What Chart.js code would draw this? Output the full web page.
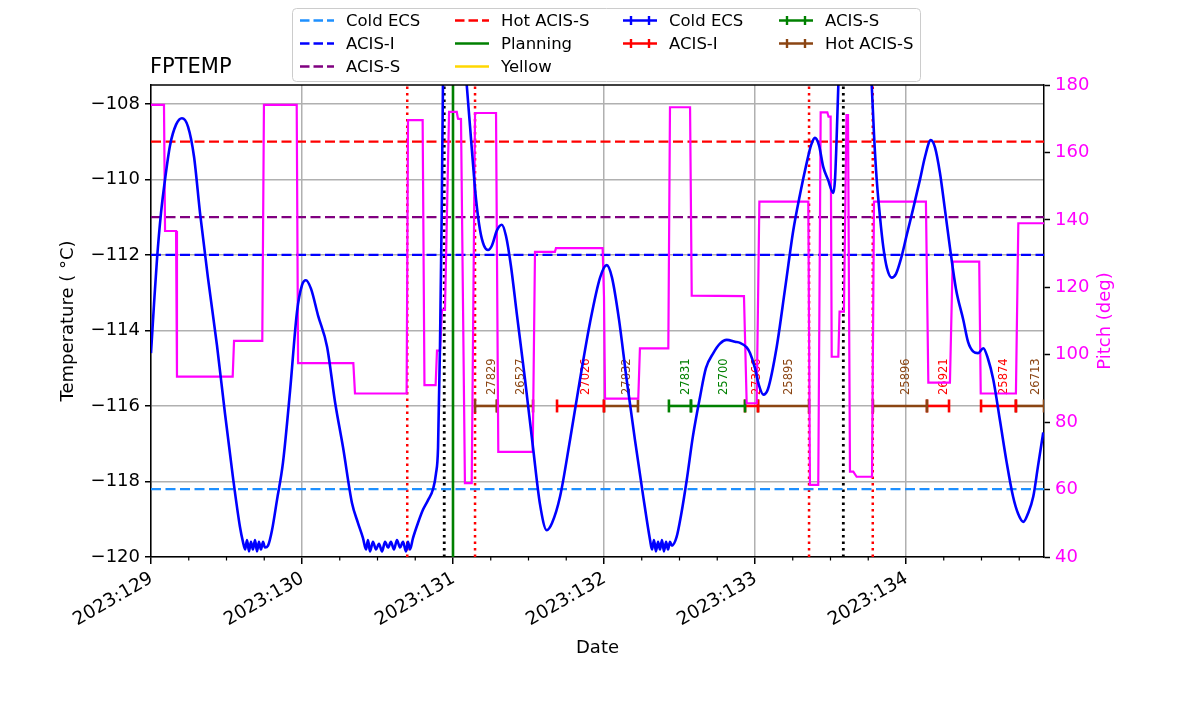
<!DOCTYPE html>
<html>
<head>
<meta charset="utf-8">
<script src="https://cdn.jsdelivr.net/npm/chart.js@4.4.1/dist/chart.umd.min.js"></script>
<style>
  html, body { margin: 0; padding: 0; background: #fff; }
  #wrap { width: 1200px; height: 714px; position: relative; }
</style>
</head>
<body>
<div id="wrap"><canvas id="chart"></canvas></div>
<script>
// --- axis ranges -----------------------------------------------------------
const xRange = [129, 134.914];          // day of year 2023
const tempRange = [-120, -107.5];
const pitchRange = [40, 180];
const dayTicks = [129, 130, 131, 132, 133, 134];

// --- FPTEMP (deg C) --------------------------------------------------------
const tempTimes = [
  129.000,129.020,129.040,129.066,129.093,129.126,129.166,129.205,129.245,129.285,
  129.325,129.377,129.437,129.490,129.543,129.589,129.609,
  129.623,129.636,129.649,129.662,129.675,129.689,129.702,129.715,129.728,129.742,129.755,
  129.775,129.801,129.834,129.874,129.921,129.967,130.000,130.026,130.060,130.106,130.166,130.219,130.272,130.331,130.371,130.404,
  130.424,130.437,130.450,130.470,130.490,130.510,130.530,130.550,130.570,130.589,130.609,130.629,130.649,130.669,130.689,130.702,130.715,130.735,
  130.768,130.801,130.834,130.868,130.887,130.901,130.914,130.925,130.934,130.940,130.954,131.013,131.066,
  131.091,131.113,131.132,131.152,131.179,131.205,131.232,131.258,131.291,131.323,131.351,131.384,131.422,131.477,131.530,131.576,131.621,131.656,131.709,131.775,131.841,131.907,131.974,132.018,132.053,132.099,132.150,132.205,132.260,132.305,
  132.318,132.331,132.344,132.358,132.371,132.384,132.397,132.411,132.424,132.437,132.450,
  132.481,132.510,132.548,132.589,132.636,132.675,132.724,132.768,132.813,132.868,132.901,132.945,132.967,133.000,133.026,133.055,133.086,133.144,133.199,133.254,133.298,133.342,133.371,133.397,133.424,133.452,133.483,133.519,133.530,133.540,133.552,133.596,133.709,
  133.773,133.788,133.806,133.828,133.850,133.874,133.905,133.934,133.967,134.005,134.046,134.093,134.126,134.164,134.192,134.225,134.258,134.291,134.331,134.380,134.411,134.446,134.477,134.512,134.543,134.578,134.623,134.667,134.709,134.742,134.777,134.808,134.843,134.874,134.909
];
const tempValues = [
  -114.6,-113.3,-112.1,-110.9,-110.0,-109.1,-108.55,-108.38,-108.6,-109.4,
  -110.9,-112.6,-114.4,-116.2,-117.9,-119.2,-119.6,
  -119.8,-119.55,-119.85,-119.6,-119.8,-119.55,-119.85,-119.6,-119.8,-119.6,-119.75,
  -119.7,-119.3,-118.5,-117.5,-115.6,-113.5,-112.8,-112.67,-112.9,-113.6,-114.43,-115.9,-117.1,-118.57,-119.1,-119.5,
  -119.8,-119.55,-119.85,-119.6,-119.8,-119.65,-119.85,-119.6,-119.75,-119.6,-119.8,-119.55,-119.75,-119.6,-119.85,-119.6,-119.8,-119.5,
  -119.1,-118.75,-118.5,-118.2,-117.8,-117.1,-114.4,-111.0,-107.3,-106.0,-105.0,-104.0,-106.0,
  -107.5,-108.6,-109.57,-110.5,-111.34,-111.75,-111.87,-111.75,-111.35,-111.2,-111.5,-112.3,-113.54,-115.3,-117.1,-118.6,-119.29,-119.1,-118.4,-116.9,-115.3,-113.8,-112.6,-112.27,-112.6,-113.7,-115.3,-116.9,-118.4,-119.55,
  -119.8,-119.55,-119.85,-119.6,-119.8,-119.55,-119.85,-119.6,-119.8,-119.6,-119.7,
  -119.47,-118.9,-117.96,-116.8,-115.76,-115.0,-114.6,-114.35,-114.25,-114.3,-114.33,-114.45,-114.6,-115.0,-115.45,-115.7,-115.55,-114.43,-112.9,-111.34,-110.4,-109.57,-109.1,-108.9,-109.1,-109.67,-110.0,-110.36,-110.0,-109.0,-107.5,-104.0,-104.0,
  -107.5,-108.8,-110.0,-111.0,-111.8,-112.35,-112.6,-112.5,-112.1,-111.47,-110.8,-110.0,-109.4,-108.96,-109.15,-109.83,-110.8,-111.8,-112.9,-113.73,-114.3,-114.56,-114.6,-114.47,-114.75,-115.3,-116.4,-117.5,-118.4,-118.85,-119.07,-118.85,-118.4,-117.6,-116.7
];

// --- pitch (deg) -----------------------------------------------------------
const pitchTimes = [
  129.000,129.086,129.093,129.166,129.172,129.541,129.550,129.737,129.748,129.965,
  129.974,130.340,130.351,130.693,130.702,130.799,130.811,130.885,130.894,130.914,
  130.927,130.947,130.974,131.025,131.033,131.053,131.079,131.124,131.146,131.285,
  131.300,131.528,131.543,131.675,131.682,131.991,132.000,132.007,132.227,132.238,
  132.426,132.437,132.570,132.581,132.927,132.945,133.011,133.029,133.353,133.364,
  133.419,133.435,133.479,133.487,133.501,133.508,133.552,133.560,133.589,133.606,
  133.616,133.629,133.651,133.673,133.775,133.788,134.132,134.148,134.291,134.309,
  134.485,134.495,134.728,134.744,134.914
];
const pitchValues = [
  174.1,174.1,136.7,136.7,93.5,93.5,104.1,104.1,174.1,174.1,
  97.5,97.5,88.5,88.5,169.6,169.6,91,91,101.2,101.2,
  113.3,113.3,172,172,170,169.9,61.9,61.9,171.7,171.7,
  71.2,71.2,130.5,130.5,131.6,131.6,117.2,87,87,101.9,
  101.9,173.4,173.4,117.5,117.4,85.6,85.6,145.4,145.4,61.4,
  61.4,171.9,171.9,170.6,170.6,99.4,99.4,112.8,112.8,171.1,
  171.1,65.3,65.3,63.8,63.8,145.4,145.4,91.7,91.7,127.6,
  127.6,88.5,88.5,139,139
];

// --- limit lines -----------------------------------------------------------
const limitNames  = ['Cold ECS', 'ACIS-I', 'ACIS-S', 'Hot ACIS-S'];
const limitValues = [-118.2, -112, -111, -109];
const limitColors = ['#1e90ff', '#0000ff', '#800080', '#ff0000'];

// --- vertical event lines --------------------------------------------------
const redEventTimes   = [130.697, 131.146, 133.358, 133.780];
const blackEventTimes = [130.942, 133.585];
const planningTimes   = [131.000];

// --- obsid intervals -------------------------------------------------------
const obsidLevel = -116;
const obsidIds   = ['27829','26527','27026','27832','27831','25700','27366','25895','25896','26921','25874','26713'];
const obsidStart = [131.146,131.291,131.689,132.000,132.430,132.576,132.934,133.020,133.781,134.139,134.497,134.728];
const obsidStop  = [131.291,131.530,132.000,132.225,132.576,132.934,133.020,133.358,134.139,134.285,134.728,134.914];
const obsidMode  = ['Hot ACIS-S','Hot ACIS-S','ACIS-I','Hot ACIS-S','ACIS-S','ACIS-S','ACIS-I','Hot ACIS-S','Hot ACIS-S','ACIS-I','ACIS-I','Hot ACIS-S'];
const modeColor  = { 'Cold ECS': '#0000ff', 'ACIS-I': '#ff0000', 'ACIS-S': '#008000', 'Hot ACIS-S': '#8b4513' };

// --- legend ----------------------------------------------------------------
const legendLabels = ['Cold ECS','ACIS-I','ACIS-S','Hot ACIS-S','Planning','Yellow','Cold ECS','ACIS-I','ACIS-S','Hot ACIS-S'];
const legendColors = ['#1e90ff','#0000ff','#800080','#ff0000','#008000','#ffd700','#0000ff','#ff0000','#008000','#8b4513'];
const legendKinds  = ['dash','dash','dash','dash','solid','solid','err','err','err','err'];

const FONT = '"DejaVu Sans", sans-serif';
Chart.defaults.font.family = FONT;

const pts = (xs, ys) => xs.map((x, i) => ({ x: x, y: ys[i] }));

const datasets = [];

datasets.push({
  label: 'FPTEMP', data: pts(tempTimes, tempValues), yAxisID: 'y',
  borderColor: '#0000ff', borderWidth: 2.6, pointRadius: 0, showLine: true, order: 0,
  cubicInterpolationMode: 'monotone'
});
datasets.push({
  label: 'Pitch', data: pts(pitchTimes, pitchValues), yAxisID: 'y2',
  borderColor: '#ff00ff', borderWidth: 2.2, pointRadius: 0, showLine: true, order: 1
});

obsidIds.forEach((id, i) => {
  const c = modeColor[obsidMode[i]];
  datasets.push({
    label: id, yAxisID: 'y', order: 2,
    data: [{ x: obsidStart[i], y: obsidLevel }, { x: obsidStop[i], y: obsidLevel }],
    borderColor: c, borderWidth: 2.6, showLine: true,
    pointStyle: 'line', pointRotation: 90, pointRadius: 6.5,
    pointBorderColor: c, pointBorderWidth: 2.6
  });
});

limitNames.forEach((n, i) => {
  datasets.push({
    label: n, yAxisID: 'y', order: 3,
    data: [{ x: xRange[0], y: limitValues[i] }, { x: xRange[1], y: limitValues[i] }],
    borderColor: limitColors[i], borderWidth: 2.2, borderDash: [10, 4.5],
    pointRadius: 0, showLine: true
  });
});

function vline(t, color, dash, width) {
  datasets.push({
    label: 'event', yAxisID: 'y', order: 4,
    data: [{ x: t, y: tempRange[0] }, { x: t, y: tempRange[1] }],
    borderColor: color, borderWidth: width, borderDash: dash,
    pointRadius: 0, showLine: true
  });
}
redEventTimes.forEach(t => vline(t, '#ff0000', [2.5, 4], 2.5));
blackEventTimes.forEach(t => vline(t, '#000000', [2.5, 4], 2.8));
planningTimes.forEach(t => vline(t, '#008000', [], 2.6));

// extra drawing: frame, minor ticks, rotated date labels, obsid labels, titles, legend
const decor = {
  id: 'decor',
  beforeDatasetsDraw(chart) {
    const ctx = chart.ctx, xs = chart.scales.x, ys = chart.scales.y, a = chart.chartArea;
    ctx.save();
    ctx.beginPath();
    ctx.rect(a.left, a.top, a.right - a.left, a.bottom - a.top);
    ctx.clip();
    ctx.font = '11.5px ' + FONT;
    obsidIds.forEach((id, i) => {
      const xm = xs.getPixelForValue((obsidStart[i] + obsidStop[i]) / 2);
      const yb = ys.getPixelForValue(obsidLevel) - 11;
      ctx.save();
      ctx.translate(xm, yb);
      ctx.rotate(-Math.PI / 2);
      ctx.textAlign = 'left';
      ctx.textBaseline = 'top';
      ctx.fillStyle = modeColor[obsidMode[i]];
      ctx.fillText(id, 0, 0);
      ctx.restore();
    });
    ctx.restore();
  },
  afterDraw(chart) {
    const ctx = chart.ctx, a = chart.chartArea, xs = chart.scales.x;
    ctx.save();
    // top spine
    ctx.strokeStyle = '#000';
    ctx.lineWidth = 1.5;
    ctx.beginPath();
    ctx.moveTo(a.left, a.top);
    ctx.lineTo(a.right, a.top);
    ctx.stroke();
    // minor x ticks every 6 h
    ctx.lineWidth = 1.2;
    for (let q = Math.ceil(xRange[0] * 4); q <= xRange[1] * 4; q++) {
      if (q % 4 === 0) continue;
      const px = xs.getPixelForValue(q / 4);
      ctx.beginPath();
      ctx.moveTo(px, a.bottom);
      ctx.lineTo(px, a.bottom + 3.5);
      ctx.stroke();
    }
    // date tick labels, rotated 30 deg, right/top aligned like autofmt_xdate
    ctx.fillStyle = '#000';
    ctx.font = '18.5px ' + FONT;
    ctx.textAlign = 'center';
    ctx.textBaseline = 'middle';
    const ang = Math.PI / 6, th = 18.5 * 1.16;
    dayTicks.forEach(d => {
      const txt = '2023:' + d;
      const w = ctx.measureText(txt).width;
      const bw = w * Math.cos(ang) + th * Math.sin(ang);
      const bh = w * Math.sin(ang) + th * Math.cos(ang);
      const px = xs.getPixelForValue(d) + 6;
      ctx.save();
      ctx.translate(px - bw / 2, a.bottom + 11 + bh / 2);
      ctx.rotate(-ang);
      ctx.fillText(txt, 0, 0);
      ctx.restore();
    });
    // title
    ctx.font = '21px ' + FONT;
    ctx.textAlign = 'left';
    ctx.textBaseline = 'alphabetic';
    ctx.fillText('FPTEMP', a.left - 1, a.top - 12);
    // axis titles
    ctx.font = '18px ' + FONT;
    ctx.textAlign = 'center';
    ctx.textBaseline = 'middle';
    ctx.fillText('Date', (a.left + a.right) / 2, 648);
    const ymid = (a.top + a.bottom) / 2;
    ctx.save();
    ctx.translate(68, ymid);
    ctx.rotate(-Math.PI / 2);
    ctx.fillText('Temperature ( \u00b0C)', 0, 0);
    ctx.restore();
    ctx.save();
    ctx.translate(1105, ymid);
    ctx.rotate(-Math.PI / 2);
    ctx.fillStyle = '#ff00ff';
    ctx.fillText('Pitch (deg)', 0, 0);
    ctx.restore();
    // legend
    drawLegend(ctx);
    ctx.restore();
  }
};

function drawLegend(ctx) {
  const bx = 292.5, by = 8.5, bw = 628, bh = 73, r = 4;
  ctx.save();
  ctx.beginPath();
  ctx.moveTo(bx + r, by);
  ctx.arcTo(bx + bw, by, bx + bw, by + bh, r);
  ctx.arcTo(bx + bw, by + bh, bx, by + bh, r);
  ctx.arcTo(bx, by + bh, bx, by, r);
  ctx.arcTo(bx, by, bx + bw, by, r);
  ctx.closePath();
  ctx.fillStyle = 'rgba(255,255,255,0.85)';
  ctx.fill();
  ctx.strokeStyle = '#cccccc';
  ctx.lineWidth = 1;
  ctx.stroke();

  const colX = [300, 455, 623, 779];
  const rowY = [20.5, 43.5, 66.5];
  const perCol = [3, 3, 2, 2];
  let k = 0;
  ctx.font = '16.5px ' + FONT;
  ctx.textAlign = 'left';
  ctx.textBaseline = 'middle';
  for (let c = 0; c < 4; c++) {
    for (let rr = 0; rr < perCol[c]; rr++, k++) {
      const x0 = colX[c], y0 = rowY[rr], w = 34;
      ctx.strokeStyle = legendColors[k];
      ctx.lineWidth = legendKinds[k] === 'solid' ? 2.6 : 2.4;
      ctx.setLineDash(legendKinds[k] === 'dash' ? [9.5, 4] : []);
      ctx.beginPath();
      ctx.moveTo(x0, y0);
      ctx.lineTo(x0 + w, y0);
      ctx.stroke();
      ctx.setLineDash([]);
      if (legendKinds[k] === 'err') {
        [x0 + 8, x0 + 26].forEach(cx => {
          ctx.beginPath();
          ctx.moveTo(cx, y0 - 4.5);
          ctx.lineTo(cx, y0 + 4.5);
          ctx.stroke();
        });
      }
      ctx.fillStyle = '#000';
      ctx.fillText(legendLabels[k], x0 + 46, y0 + 1);
    }
  }
  ctx.restore();
}

const fmtMinus = v => String(Math.round(v * 10) / 10).replace('-', '\u2212');

new Chart(document.getElementById('chart'), {
  type: 'scatter',
  data: { datasets: datasets },
  plugins: [decor],
  options: {
    responsive: true,
    maintainAspectRatio: false,
    animation: false,
    layout: { padding: { top: 85, left: 0, right: 0, bottom: 0 } },
    elements: { line: { tension: 0 } },
    plugins: { legend: { display: false }, tooltip: { enabled: false } },
    scales: {
      x: {
        type: 'linear', position: 'bottom',
        min: xRange[0], max: xRange[1],
        afterBuildTicks: s => { s.ticks = dayTicks.map(v => ({ value: v })); },
        afterFit: s => { s.height = 157; },
        ticks: { display: false },
        grid: { color: '#b0b0b0', lineWidth: 1.5, tickColor: '#000', tickLength: 7, tickWidth: 1.5 },
        border: { display: true, color: '#000', width: 1.5 }
      },
      y: {
        type: 'linear', position: 'left',
        min: tempRange[0], max: tempRange[1],
        afterFit: s => { s.width = 151; },
        ticks: { stepSize: 2, includeBounds: false, padding: 5, color: '#000', font: { size: 18 }, callback: fmtMinus },
        grid: { color: '#b0b0b0', lineWidth: 1.5, tickColor: '#000', tickLength: 6, tickWidth: 1.5 },
        border: { display: true, color: '#000', width: 1.5 }
      },
      y2: {
        type: 'linear', position: 'right',
        min: pitchRange[0], max: pitchRange[1],
        afterFit: s => { s.width = 156; },
        ticks: { stepSize: 20, padding: 5, color: '#ff00ff', font: { size: 18 } },
        grid: { drawOnChartArea: false, tickColor: '#000', tickLength: 6, tickWidth: 1.5 },
        border: { display: true, color: '#000', width: 1.5 }
      }
    }
  }
});
</script>
</body>
</html>
